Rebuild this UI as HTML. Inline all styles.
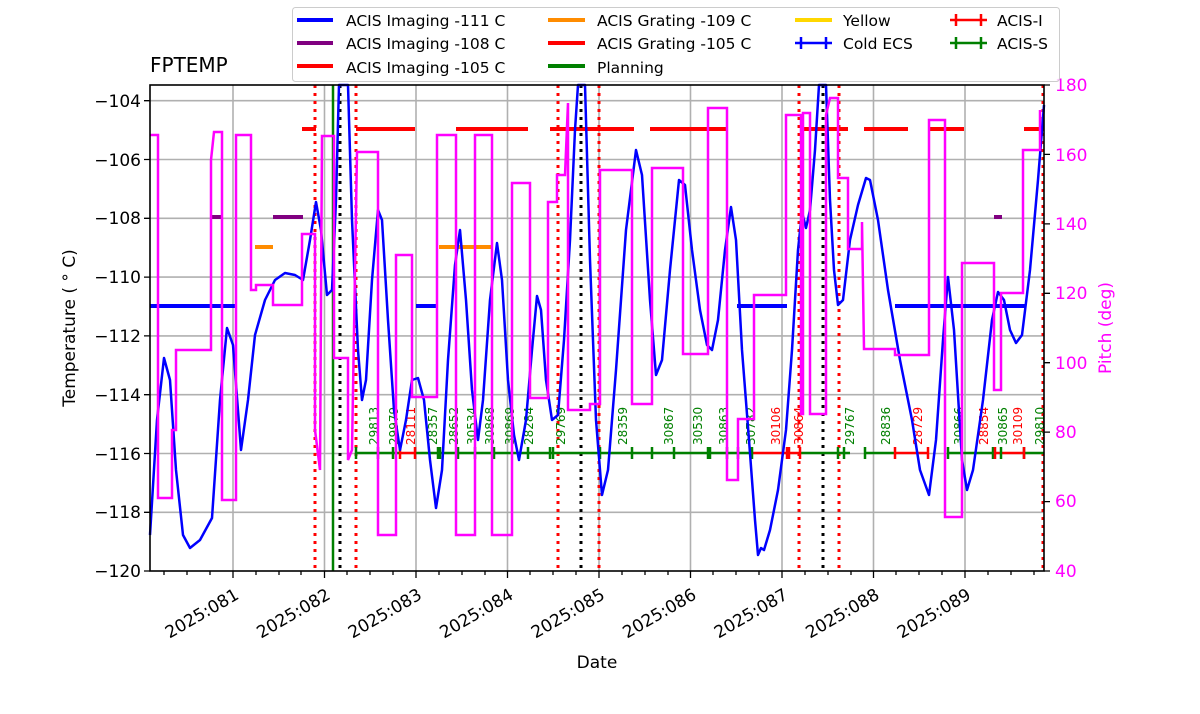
<!DOCTYPE html>
<html><head><meta charset="utf-8"><style>body{margin:0;background:#fff}svg{display:block}text{font-family:"DejaVu Sans","Liberation Sans",sans-serif}</style></head><body>
<svg width="1200" height="714" viewBox="0 0 1200 714" xmlns="http://www.w3.org/2000/svg">
<rect width="1200" height="714" fill="#fff"/>
<g stroke="#b0b0b0" stroke-width="1.6">
<line x1="233" y1="85" x2="233" y2="571"/><line x1="324.5" y1="85" x2="324.5" y2="571"/><line x1="416" y1="85" x2="416" y2="571"/><line x1="507.5" y1="85" x2="507.5" y2="571"/><line x1="599" y1="85" x2="599" y2="571"/><line x1="690.5" y1="85" x2="690.5" y2="571"/><line x1="782" y1="85" x2="782" y2="571"/><line x1="873.5" y1="85" x2="873.5" y2="571"/><line x1="965" y1="85" x2="965" y2="571"/>
<line x1="150" y1="100.7" x2="1044" y2="100.7"/><line x1="150" y1="159.5" x2="1044" y2="159.5"/><line x1="150" y1="218.3" x2="1044" y2="218.3"/><line x1="150" y1="277.1" x2="1044" y2="277.1"/><line x1="150" y1="335.9" x2="1044" y2="335.9"/><line x1="150" y1="394.7" x2="1044" y2="394.7"/><line x1="150" y1="453.5" x2="1044" y2="453.5"/><line x1="150" y1="512.3" x2="1044" y2="512.3"/>
</g>
<g stroke-width="4" fill="none">
<path stroke="#0000ff" d="M150 306H237M416 306H437M737 306H787M895 306H1025"/>
<path stroke="#800080" d="M211 217H222M273 217H303M994 217H1002"/>
<path stroke="#ff8c00" d="M255 247H273M439 247H492"/>
<path stroke="#ff0000" d="M302 129H316M356 129H415M456 129H528M550 129H634M650 129H728M800 129H848M864 129H908M929 129H964M1024 129H1044"/>
</g>
<g stroke-width="3" stroke-dasharray="3,5">
<path stroke="#ff0000" d="M315 85V571M356 85V571M558 85V571M599 85V571M799 85V571M839 85V571M1043 85V571"/>
<path stroke="#000" d="M340 85V571M581 85V571M823 85V571"/>
</g>
<line x1="333" y1="85" x2="333" y2="571" stroke="#008000" stroke-width="2.5"/>
<g stroke-width="2.5">
<path stroke="#008000" d="M356 453H400M415 453H753M800 453H850M865 453H895M948 453H995M1024 453H1044"/>
<path stroke="#ff0000" d="M400 453H415M753 453H800M895 453H928M995 453H1024"/>
<path stroke="#008000" d="M356 447V459M378 447V459M393 447V459M438 447V459M440 447V459M458 447V459M475 447V459M494 447V459M528 447V459M550 447V459M553 447V459M600 447V459M632 447V459M652 447V459M674 447V459M708 447V459M710 447V459M727 447V459M738 447V459M752 447V459M838 447V459M844 447V459M865 447V459M948 447V459M993 447V459M1001 447V459M1024 447V459"/>
<path stroke="#ff0000" d="M400 447V459M415 447V459M787 447V459M789 447V459M800 447V459M895 447V459M928 447V459M995 447V459M1024 447V459"/>
</g>
<g font-size="12" text-anchor="start">
<text transform="translate(378,445) rotate(-90)" fill="#008000">29813</text>
<text transform="translate(398,445) rotate(-90)" fill="#008000">29979</text>
<text transform="translate(415,445) rotate(-90)" fill="#ff0000">28111</text>
<text transform="translate(437,445) rotate(-90)" fill="#008000">28357</text>
<text transform="translate(458,445) rotate(-90)" fill="#008000">28652</text>
<text transform="translate(476,445) rotate(-90)" fill="#008000">30534</text>
<text transform="translate(494,445) rotate(-90)" fill="#008000">30868</text>
<text transform="translate(514,445) rotate(-90)" fill="#008000">30869</text>
<text transform="translate(533,445) rotate(-90)" fill="#008000">28284</text>
<text transform="translate(565,445) rotate(-90)" fill="#008000">29769</text>
<text transform="translate(627,445) rotate(-90)" fill="#008000">28359</text>
<text transform="translate(673,445) rotate(-90)" fill="#008000">30867</text>
<text transform="translate(702,445) rotate(-90)" fill="#008000">30530</text>
<text transform="translate(728,445) rotate(-90)" fill="#008000">30863</text>
<text transform="translate(755,445) rotate(-90)" fill="#008000">30782</text>
<text transform="translate(780,445) rotate(-90)" fill="#ff0000">30106</text>
<text transform="translate(803,445) rotate(-90)" fill="#ff0000">30864</text>
<text transform="translate(854,445) rotate(-90)" fill="#008000">29767</text>
<text transform="translate(890,445) rotate(-90)" fill="#008000">28836</text>
<text transform="translate(922,445) rotate(-90)" fill="#ff0000">28729</text>
<text transform="translate(963,445) rotate(-90)" fill="#008000">30866</text>
<text transform="translate(988,445) rotate(-90)" fill="#ff0000">28854</text>
<text transform="translate(1007,445) rotate(-90)" fill="#008000">30865</text>
<text transform="translate(1022,445) rotate(-90)" fill="#ff0000">30109</text>
<text transform="translate(1044,445) rotate(-90)" fill="#008000">29810</text>
</g>
<polyline fill="none" stroke="#0000ff" stroke-width="2.5" stroke-linejoin="round" points="150,535 157,420 164,358 170,380 176,470 183,535 190,548 200,540 212,518 220,400 227,328 233,345 241,450 248,400 255,335 265,300 275,280 285,273 295,275 303,280 310,240 316,202 321,230 327,295 332,290 336,200 339,85 348,85 352,220 358,350 362,400 366,380 372,280 378,210 382,220 388,320 394,410 400,450 406,420 412,380 418,378 424,400 430,460 436,508 442,470 448,360 455,265 460,230 466,300 472,390 478,440 483,400 490,300 497,243 502,280 508,380 514,435 519,460 526,420 532,350 537,296 541,310 546,380 552,420 558,415 564,340 570,240 575,130 578,85 585,85 590,260 596,420 602,495 608,470 616,370 626,230 636,150 642,175 650,300 656,375 662,360 670,270 679,180 685,185 692,250 700,310 707,345 712,350 718,320 725,250 731,207 736,240 742,350 749,440 755,520 758,555 761,548 764,550 770,530 778,490 786,430 792,350 798,250 802,212 806,228 810,210 815,150 819,85 826,85 830,200 834,270 838,305 843,300 850,240 858,205 866,178 870,180 878,220 888,290 900,360 912,420 920,470 929,495 936,440 943,340 948,277 954,330 962,460 967,490 973,470 983,400 992,320 998,292 1004,300 1010,330 1016,343 1022,335 1030,270 1038,180 1044,105"/>
<path fill="none" stroke="#ff00ff" stroke-width="2.5" d="M150,135 H158 V498 H172 V430 H176 V350 H211 V160 L214,132 H222 V500 H236 V135 H251 V290 H256 V285 H273 V305 H302 V234 H315 V430 L320,470 L322,136 H334 V358 H348 V460 L352,450 L357,152 H378 V535 H396 V255 H412 V397 H437 V135 H456 V535 H475 V135 H492 V535 H512 V183 H530 V398 H548 V202 H557 V175 H565 L568,103 V410 H590 V404 H600 V170 H632 V404 H652 V168 H683 V354 H708 V108 H727 V480 H738 V419 H754 V295 H786 V115 H801 V414 H803 V113 H810 V414 H826 V115 L830,98 H838 V178 H848 V249 H862 V222 L864,349 H895 V355 H929 V120 H945 V517 H962 V263 H994 V390 H1001 V293 H1023 V150 H1040 V110"/>
<rect x="150" y="85" width="894" height="486" fill="none" stroke="#000" stroke-width="1.6"/>
<g stroke="#000" stroke-width="1.3">
<path d="M150 100.7h-6M150 159.5h-6M150 218.3h-6M150 277.1h-6M150 335.9h-6M150 394.7h-6M150 453.5h-6M150 512.3h-6M150 571h-6"/>
<path d="M1044 85h6M1044 154.4h6M1044 223.9h6M1044 293.3h6M1044 362.7h6M1044 432.1h6M1044 501.6h6M1044 571h6"/>
<path d="M233 571v7M324.5 571v7M416 571v7M507.5 571v7M599 571v7M690.5 571v7M782 571v7M873.5 571v7M965 571v7"/>
<path d="M164 571v4M187 571v4M210 571v4M256 571v4M279 571v4M301 571v4M347 571v4M370 571v4M393 571v4M439 571v4M462 571v4M485 571v4M530 571v4M553 571v4M576 571v4M622 571v4M645 571v4M668 571v4M713 571v4M736 571v4M759 571v4M805 571v4M828 571v4M851 571v4M896 571v4M919 571v4M942 571v4M988 571v4M1011 571v4M1034 571v4"/>
</g>
<g font-size="17" text-anchor="end" fill="#000">
<text x="141" y="107">−104</text><text x="141" y="166">−106</text><text x="141" y="224">−108</text><text x="141" y="283">−110</text><text x="141" y="342">−112</text><text x="141" y="401">−114</text><text x="141" y="460">−116</text><text x="141" y="518">−118</text><text x="141" y="577">−120</text>
</g>
<g font-size="17" fill="#ff00ff">
<text x="1055" y="91">180</text><text x="1055" y="161">160</text><text x="1055" y="230">140</text><text x="1055" y="299">120</text><text x="1055" y="369">100</text><text x="1055" y="438">80</text><text x="1055" y="507">60</text><text x="1055" y="577">40</text>
</g>
<text transform="translate(1111,328) rotate(-90)" font-size="17" fill="#ff00ff" text-anchor="middle">Pitch (deg)</text>
<text transform="translate(75,328) rotate(-90)" font-size="17" text-anchor="middle">Temperature ( ° C)</text>
<g font-size="17" text-anchor="end">
<text transform="translate(240,598) rotate(-30)">2025:081</text>
<text transform="translate(331.5,598) rotate(-30)">2025:082</text>
<text transform="translate(423,598) rotate(-30)">2025:083</text>
<text transform="translate(514.5,598) rotate(-30)">2025:084</text>
<text transform="translate(606,598) rotate(-30)">2025:085</text>
<text transform="translate(697.5,598) rotate(-30)">2025:086</text>
<text transform="translate(789,598) rotate(-30)">2025:087</text>
<text transform="translate(880.5,598) rotate(-30)">2025:088</text>
<text transform="translate(972,598) rotate(-30)">2025:089</text>
</g>
<text x="597" y="668" font-size="17" text-anchor="middle">Date</text>
<text x="150" y="72" font-size="20">FPTEMP</text>
<rect x="292.5" y="7.5" width="767" height="74" rx="3" fill="#fff" fill-opacity="0.8" stroke="#ccc"/>
<g stroke-width="4">
<line x1="297" y1="20" x2="333" y2="20" stroke="#0000ff"/>
<line x1="297" y1="43" x2="333" y2="43" stroke="#800080"/>
<line x1="297" y1="66" x2="333" y2="66" stroke="#ff0000"/>
<line x1="548" y1="20" x2="585" y2="20" stroke="#ff8c00"/>
<line x1="548" y1="43" x2="585" y2="43" stroke="#ff0000"/>
<line x1="548" y1="66" x2="585" y2="66" stroke="#008000"/>
<line x1="795" y1="20" x2="832" y2="20" stroke="#ffd700"/>
</g>
<g stroke-width="2.5">
<path stroke="#0000ff" d="M795 43H832M801 37V49M826 37V49"/>
<path stroke="#ff0000" d="M950 20H987M956 14V26M981 14V26"/>
<path stroke="#008000" d="M950 43H987M956 37V49M981 37V49"/>
</g>
<g font-size="15.5">
<text x="346" y="26">ACIS Imaging -111 C</text><text x="346" y="49">ACIS Imaging -108 C</text><text x="346" y="73">ACIS Imaging -105 C</text>
<text x="597" y="26">ACIS Grating -109 C</text><text x="597" y="49">ACIS Grating -105 C</text><text x="597" y="73">Planning</text>
<text x="843" y="26">Yellow</text><text x="843" y="49">Cold ECS</text>
<text x="997" y="26">ACIS-I</text><text x="997" y="49">ACIS-S</text>
</g>
</svg>
</body></html>
